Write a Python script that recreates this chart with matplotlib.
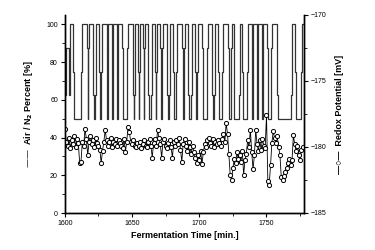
import matplotlib
matplotlib.use("Agg")
import matplotlib.pyplot as plt
from matplotlib.ticker import MultipleLocator

plt.rcParams["font.family"] = ["Liberation Sans", "DejaVu Sans"]

# Air / N2 pulses (minutes after 1600): switch to 100 % at start, back to 50 % at end
pulse_start = [3.7, 12.7, 17.9, 23.1, 27.6, 32, 35.7, 39.5, 46.9, 52.1, 55.8,
               59.6, 64.8, 68.5, 73, 78.2, 83.4, 89.4, 94.6, 99, 106.5, 111.7,
               117.6, 124.2, 130.5, 136.3, 140, 143.7, 147.4, 154, 169, 176.5]
pulse_end = [6, 16.4, 20.8, 25.3, 31.3, 35, 38.7, 42.4, 50.6, 54.4, 58.1,
             61.8, 67, 70.7, 76, 80.4, 87.1, 91.6, 96.8, 102, 109.5, 113.9,
             121.4, 125.5, 131.6, 139.2, 143, 146.7, 150.4, 157.9, 171.3, 178.3]
# level passed on the way up / down
rise_mid = [62.5, 75, 87.5, 62.5, 75, 87.5, 62.5, 75, 87.5, 62.5, 75,
            87.5, 62.5, 75, 87.5, 62.5, 75, 87.5, 62.5, 75, 87.5, 62.5,
            75, 87.5, 62.5, 75, 87.5, 62.5, 75, 87.5, 62.5, 75]
fall_mid = [75, 87.5, 62.5, 75, 87.5, 62.5, 75, 87.5, 62.5, 75, 87.5,
            62.5, 75, 87.5, 62.5, 75, 87.5, 62.5, 75, 87.5, 62.5, 75,
            87.5, 62.5, 75, 87.5, 62.5, 75, 87.5, 62.5, 75, 87.5]

# Redox potential [mV], one reading per minute from 1600
redox = [
    -178.6, -179.6, -179.9, -179.3, -180.1, -179.5, -179.8, -179.2, -180.0, -179.4,
    -179.7, -181.2, -181.1, -179.6, -179.9, -178.6, -179.4, -180.6, -179.6, -179.2,
    -179.8, -179.5, -180.0, -179.3, -179.7, -179.9, -180.2, -181.2, -180.3, -179.6,
    -178.7, -179.5, -179.9, -179.6, -179.3, -180.0, -179.6, -179.8, -179.4, -179.9,
    -179.5, -179.7, -179.9, -180.1, -179.4, -180.4, -179.6, -178.5, -178.9, -179.6,
    -179.8, -179.5, -179.9, -180.0, -179.7, -179.9, -179.6, -180.1, -179.8, -179.5,
    -179.9, -180.0, -179.6, -179.4, -179.9, -180.8, -179.7, -179.4, -179.9, -178.7,
    -179.3, -179.8, -180.8, -179.6, -179.4, -179.9, -180.1, -179.7, -179.5, -180.0,
    -180.8, -179.6, -179.9, -179.5, -179.8, -179.3, -180.2, -181.1, -179.8, -179.4,
    -179.9, -180.3, -179.6, -180.0, -180.5, -179.9, -180.4, -180.8, -181.2, -180.6,
    -181.0, -180.3, -181.3, -180.4, -179.8, -180.0, -179.5, -179.3, -179.7, -179.9,
    -179.4, -180.0, -179.6, -179.8, -179.5, -179.7, -179.9, -179.4, -179.0, -179.6,
    -178.2, -179.0, -180.5, -182.1, -182.5, -181.6, -180.9, -181.2, -180.4, -180.9,
    -180.6, -181.1, -180.3, -182.1, -181.0, -180.5, -179.5, -180.0, -178.7, -180.4,
    -181.7, -180.6, -178.7, -179.8, -180.3, -179.5, -180.2, -179.4, -179.9, -180.1,
    -177.6, -182.6, -182.9, -181.4, -179.7, -178.8, -179.3, -179.7, -179.2, -180.0,
    -180.6, -182.3, -182.5, -182.2, -181.9, -181.6, -181.2, -180.9, -181.4, -181.0,
    -179.1, -179.8, -180.3, -179.9, -180.6, -181.0, -180.2, -180.0,
]
redox_t = [1600 + i for i in range(len(redox))]

# build the stepped air signal from the pulse list
air_time = [1600, 1601]
air_v = [62.5, 87.5]
for s, e, up, down in zip(pulse_start, pulse_end, rise_mid, fall_mid):
    air_time += [1600 + s - 0.7, 1600 + s, 1600 + e, 1600 + e + 0.6]
    air_v += [up, 100, down, 50]

fig = plt.figure(figsize=(3.75, 2.5), dpi=100)
ax = fig.add_axes([0.173, 0.148, 0.638, 0.792])
ax2 = ax.twinx()

ax.step(air_time, air_v, where="post", color="#333333", lw=0.9)
ax2.plot(redox_t, redox, color="black", lw=0.6, marker="o", markersize=3.0,
         markerfacecolor="white", markeredgecolor="black", markeredgewidth=0.7)

ax.set_xlim(1600, 1778)
ax.set_ylim(0, 105)
ax2.set_ylim(-185, -170)

ax.xaxis.set_major_locator(MultipleLocator(50))
ax.xaxis.set_minor_locator(MultipleLocator(25))
ax.yaxis.set_major_locator(MultipleLocator(20))
ax.yaxis.set_minor_locator(MultipleLocator(10))
ax2.yaxis.set_major_locator(MultipleLocator(5))
ax2.yaxis.set_minor_locator(MultipleLocator(2.5))

for a in (ax, ax2):
    a.spines["top"].set_visible(False)
    for s in a.spines.values():
        s.set_linewidth(1.0)
    a.tick_params(which="major", length=3, width=0.8, labelsize=5, pad=2)
    a.tick_params(which="minor", length=2, width=0.6)

ax.set_xlabel("Fermentation Time [min.]", fontsize=6.5, fontweight="bold", labelpad=3)
ax.set_ylabel("\u2014\u2014  Air / N$_\\mathbf{2}$ Percent [%]", fontsize=6.5,
              fontweight="bold", labelpad=8)
ax2.set_ylabel("\u2014\u25cb\u2014  Redox Potential [mV]", fontsize=6.5,
               fontweight="bold", labelpad=6, rotation=90)

fig.savefig("out.png", dpi=100)
